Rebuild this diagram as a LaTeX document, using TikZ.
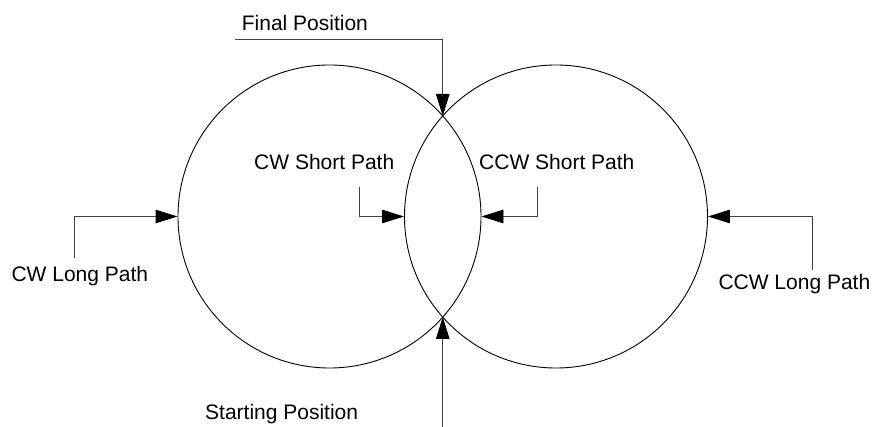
\documentclass[tikz,border=0pt]{standalone}
\usepackage{fontspec}
\setmainfont{Liberation Sans}
\usetikzlibrary{arrows.meta}
\begin{document}
\begin{tikzpicture}[x=1pt,y=-1pt,
  ring/.style={circle,draw=black,line width=0.9pt,minimum size=303pt,inner sep=0pt},
  lbl/.style={inner sep=0pt,font=\fontsize{21}{25}\selectfont},
  conn/.style={draw=black!75,line width=0.9pt,-{Triangle[length=22pt,width=13.5pt,color=black,fill=black]}}]
\useasboundingbox (0,0) rectangle (873,427);
% circles
\node[ring] (L) at (329.5,216.5) {};
\node[ring] (R) at (556,216.5) {};
\coordinate (top) at (442.75,116);
\coordinate (bot) at (442.75,317);
% labels
\node[lbl,anchor=base west] (fin) at (241.7,30.7) {Final Position};
\node[lbl,anchor=base west] (start) at (205,420) {Starting Position};
\node[lbl,anchor=base west] (cws) at (254,170) {CW Short Path};
\node[lbl,anchor=base west] (ccws) at (479,170) {CCW Short Path};
\node[lbl,anchor=base east] (cwl) at (148.3,281.7) {CW Long Path};
\node[lbl,anchor=base west] (ccwl) at (718.3,289.5) {CCW Long Path};
% connector start points
\coordinate (f0) at (235,39.3);
\coordinate (s0) at (442.75,427);
\coordinate (cws0) at (359.3,186.7);
\coordinate (ccws0) at (537.3,186.7);
\coordinate (cwl0) at (74,258);
\coordinate (ccwl0) at (812.3,270);
% connectors
\draw[conn] (f0) -| (top);
\draw[conn] (s0) -- (bot);
\draw[conn] (cws0) |- (R.west);
\draw[conn] (ccws0) |- (L.east);
\draw[conn] (cwl0) |- (L.west);
\draw[conn] (ccwl0) |- (R.east);
\end{tikzpicture}
\end{document}
